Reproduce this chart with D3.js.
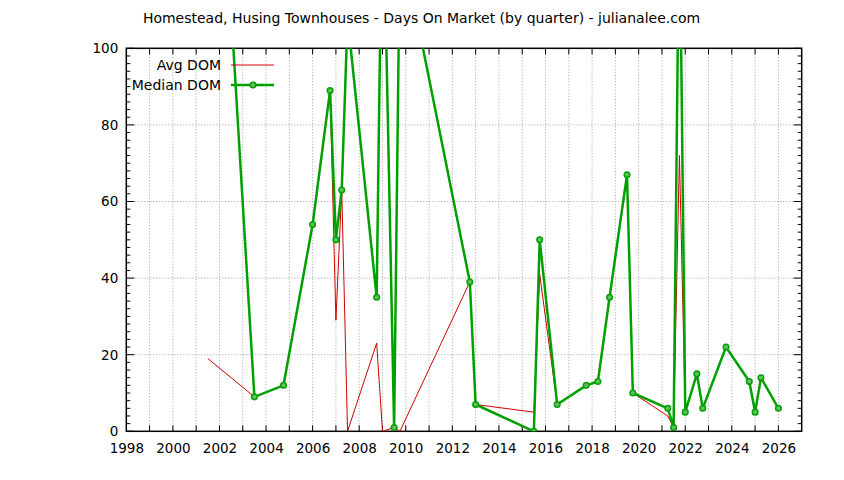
<!DOCTYPE html>
<html>
<head>
<meta charset="utf-8">
<script src="https://cdn.jsdelivr.net/npm/d3@7"></script>
<style>
  body { margin: 0; background: #fff; }
  text { font-family: "DejaVu Sans", sans-serif; font-size: 14px; fill: #000; }
  .tick text { font-size: 13.5px; }
</style>
</head>
<body>
<div id="graph"></div>
<script>
// quarter positions (decimal years) and the two series
var quarters = [2001.5, 2003.5, 2004.75, 2006.0, 2006.75, 2007.0, 2007.25, 2007.5,
  2008.75, 2009.0, 2009.5, 2009.75, 2012.75, 2013.0, 2015.5, 2015.75, 2016.5,
  2017.75, 2018.25, 2018.75, 2019.5, 2019.75, 2021.25, 2021.5, 2021.75, 2022.0,
  2022.5, 2022.75, 2023.75, 2024.75, 2025.0, 2025.25, 2026.0];
var median_dom = [211, 9, 12, 54, 89, 50, 63, 108, 35, 150, 1, 130, 39, 7, 0, 50, 7,
  12, 13, 35, 67, 10, 6, 1, 140, 5, 15, 6, 22, 13, 5, 14, 6];
var avg_dom = [19, 9, 12, 54, 89, 29, 63, 0, 23, 0, 1, 0, 39, 7, 5, 41, 7,
  12, 13, 35, 67, 10, 4, 1, 72, 5, 15, 6, 22, 13, 5, 14, 6];
var year_ticks = [1998, 2000, 2002, 2004, 2006, 2008, 2010, 2012, 2014, 2016, 2018, 2020, 2022, 2024, 2026];
var dom_ticks = [0, 20, 40, 60, 80, 100];
var title = "Homestead, Husing Townhouses - Days On Market (by quarter) - julianalee.com";

var W = 844, H = 480,
    margin = {top: 48.3, right: 42.3, bottom: 48.7, left: 126.3};
var w = W - margin.left - margin.right,
    h = H - margin.top - margin.bottom;

var x = d3.scaleLinear().domain([1998, 2027]).range([0, w]);
var y = d3.scaleLinear().domain([0, 100]).range([h, 0]);

var svg = d3.select('#graph').append('svg')
    .attr('width', W)
    .attr('height', H);

svg.append('text')
    .attr('x', W / 2 - 0.5)
    .attr('y', 23)
    .attr('text-anchor', 'middle')
    .text(title);

var g = svg.append('g')
    .attr('transform', 'translate(' + margin.left + ',' + margin.top + ')');

g.append('clipPath').attr('id', 'clip')
  .append('rect').attr('width', w).attr('height', h);

// grid: every year on x, major ticks on y
var all_years = d3.range(1999, 2027);
g.append('g').selectAll('line')
    .data(all_years)
    .enter().append('line')
    .attr('x1', function(d) { return x(d); })
    .attr('x2', function(d) { return x(d); })
    .attr('y1', 0).attr('y2', h)
    .attr('stroke', '#a0a0a0')
    .attr('stroke-dasharray', '1,2');
g.append('g').selectAll('line')
    .data(dom_ticks.slice(1, -1))
    .enter().append('line')
    .attr('x1', 0).attr('x2', w)
    .attr('y1', function(d) { return y(d); })
    .attr('y2', function(d) { return y(d); })
    .attr('stroke', '#a0a0a0')
    .attr('stroke-dasharray', '1,2');

// axes (mirrored on top/right like gnuplot)
var minor_y = d3.range(0, 101, 2);
g.append('g')
    .attr('transform', 'translate(0,' + h + ')')
    .call(d3.axisBottom(x).tickValues(year_ticks).tickFormat(d3.format('d')).tickSize(0).tickPadding(12));
g.append('g')
    .call(d3.axisLeft(y).tickValues(dom_ticks).tickSize(0).tickPadding(8));

var ticks = g.append('g').attr('stroke', '#000').attr('stroke-width', 1);
all_years.forEach(function(d) {
  ticks.append('line').attr('x1', x(d)).attr('x2', x(d)).attr('y1', h).attr('y2', h - 6);
  ticks.append('line').attr('x1', x(d)).attr('x2', x(d)).attr('y1', 0).attr('y2', 6);
});
minor_y.forEach(function(d) {
  var len = (d % 20 == 0) ? 8 : 4;
  ticks.append('line').attr('x1', 0).attr('x2', len).attr('y1', y(d)).attr('y2', y(d));
  ticks.append('line').attr('x1', w).attr('x2', w - len).attr('y1', y(d)).attr('y2', y(d));
});

g.selectAll('.domain').remove();
g.append('rect')
    .attr('width', w).attr('height', h)
    .attr('fill', 'none')
    .attr('stroke', '#000')
    .attr('stroke-width', 1.5);

// series
var line = d3.line()
    .x(function(d) { return x(d[0]); })
    .y(function(d) { return y(d[1]); });

var avg_pts = quarters.map(function(q, i) { return [q, avg_dom[i]]; });
var med_pts = quarters.map(function(q, i) { return [q, median_dom[i]]; });

var plot = g.append('g').attr('clip-path', 'url(#clip)');
plot.append('path')
    .datum(avg_pts)
    .attr('d', line)
    .attr('fill', 'none')
    .attr('stroke', '#d00000')
    .attr('stroke-width', 1);
plot.append('path')
    .datum(med_pts)
    .attr('d', line)
    .attr('fill', 'none')
    .attr('stroke', '#00a000')
    .attr('stroke-width', 2.5)
    .attr('stroke-linejoin', 'round');
plot.selectAll('circle')
    .data(med_pts.filter(function(d) { return d[1] <= 100; }))
    .enter().append('circle')
    .attr('cx', function(d) { return x(d[0]); })
    .attr('cy', function(d) { return y(d[1]); })
    .attr('r', 2.8)
    .attr('fill', '#60c060')
    .attr('stroke', '#00a000')
    .attr('stroke-width', 1.5);

// key
var key = svg.append('g');
key.append('text')
    .attr('x', 221).attr('y', 70)
    .attr('text-anchor', 'end')
    .text('Avg DOM');
key.append('line')
    .attr('x1', 231).attr('x2', 274).attr('y1', 65).attr('y2', 65)
    .attr('stroke', '#d00000').attr('stroke-width', 1);
key.append('text')
    .attr('x', 221).attr('y', 90)
    .attr('text-anchor', 'end')
    .text('Median DOM');
key.append('line')
    .attr('x1', 231).attr('x2', 274).attr('y1', 85).attr('y2', 85)
    .attr('stroke', '#00a000').attr('stroke-width', 2.5);
key.append('circle')
    .attr('cx', 253).attr('cy', 85).attr('r', 2.8)
    .attr('fill', '#60c060')
    .attr('stroke', '#00a000')
    .attr('stroke-width', 1.5);
</script>
</body>
</html>
